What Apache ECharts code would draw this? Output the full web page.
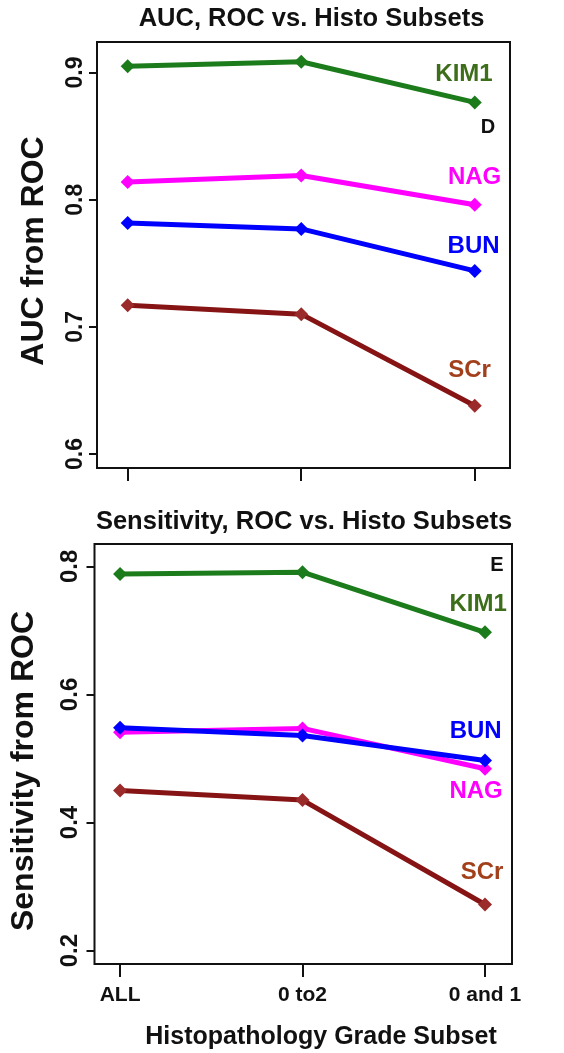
<!DOCTYPE html>
<html>
<head>
<meta charset="utf-8">
<script src="https://cdn.jsdelivr.net/npm/echarts@6/dist/echarts.min.js"></script>
<style>
  html, body { margin: 0; padding: 0; background: #fff; }
  #chart { width: 564px; height: 1053px; }
</style>
</head>
<body>
<div id="chart"></div>
<script>
// categories on the x axis (histopathology grade subsets)
const categories = ["ALL", "0 to2", "0 and 1"];
const markers = ["KIM1", "NAG", "BUN", "SCr"];

// panel D: AUC from ROC
const aucKIM1 = [0.905, 0.9085, 0.8765];
const aucNAG = [0.814, 0.819, 0.796];
const aucBUN = [0.7816, 0.777, 0.744];
const aucSCr = [0.717, 0.710, 0.638];
const aucTicks = [0.6, 0.7, 0.8, 0.9];

// panel E: sensitivity from ROC
const sensKIM1 = [0.788, 0.791, 0.697];
const sensNAG = [0.541, 0.547, 0.484];
const sensBUN = [0.548, 0.536, 0.497];
const sensSCr = [0.450, 0.435, 0.272];
const sensTicks = [0.2, 0.4, 0.6, 0.8];

// where the marker names sit (data units), order KIM1, NAG, BUN, SCr
const aucLabelX = [2.938, 2.999, 2.993, 2.970];
const aucLabelY = [0.8988, 0.8178, 0.7633, 0.666];
const sensLabelX = [2.962, 2.951, 2.949, 2.984];
const sensLabelY = [0.741, 0.449, 0.5417, 0.3214];

const lineColors = { KIM1: "#1c7c1c", NAG: "#ff00ff", BUN: "#0000ff", SCr: "#861414" };
const textColors = { KIM1: "#3d6e1a", NAG: "#ff00ff", BUN: "#0000ff", SCr: "#a3401c" };
const FONT = "'Liberation Sans', Arial, sans-serif";
const INK = "#111";

const chart = echarts.init(document.getElementById("chart"), null, { renderer: "canvas" });

function makeSeries(name, values, panel, lx, ly) {
  return {
    name: name,
    type: "line",
    xAxisIndex: panel,
    yAxisIndex: panel,
    data: values.map((v, i) => [i + 1, v]),
    symbol: "diamond",
    symbolSize: [14, 14],
    showSymbol: true,
    lineStyle: { width: 5, color: lineColors[name] },
    itemStyle: { color: name === "SCr" ? "#9b2a2a" : lineColors[name] },
    emphasis: { disabled: true },
    markPoint: {
      symbol: "circle",
      symbolSize: 0,
      silent: true,
      data: [{ coord: [lx, ly], value: name }],
      label: {
        show: true,
        position: "inside",
        formatter: name,
        color: textColors[name],
        fontFamily: FONT,
        fontWeight: "bold",
        fontSize: 24
      }
    }
  };
}

const panelD = [aucKIM1, aucNAG, aucBUN, aucSCr];
const panelE = [sensKIM1, sensNAG, sensBUN, sensSCr];

const series = [];
markers.forEach((m, i) => series.push(makeSeries(m, panelD[i], 0, aucLabelX[i], aucLabelY[i])));
markers.forEach((m, i) => series.push(makeSeries(m, panelE[i], 1, sensLabelX[i], sensLabelY[i])));

const tickStyle = { color: INK, width: 2 };

function yAxis(panel, min, max, ticks, margin, size) {
  return {
    gridIndex: panel,
    type: "value",
    min: min,
    max: max,
    axisLine: { show: false },
    splitLine: { show: false },
    axisTick: { show: true, customValues: ticks, length: 8, lineStyle: tickStyle },
    axisLabel: {
      show: true,
      customValues: ticks,
      rotate: 90,
      margin: margin,
      formatter: (v) => v.toFixed(1),
      color: INK,
      fontFamily: FONT,
      fontWeight: "bold",
      fontSize: size
    }
  };
}

function xAxis(panel, min, max, withLabels) {
  return {
    gridIndex: panel,
    type: "value",
    min: min,
    max: max,
    axisLine: { show: false },
    splitLine: { show: false },
    axisTick: { show: true, customValues: [1, 2, 3], length: 13, lineStyle: tickStyle },
    axisLabel: {
      show: withLabels,
      customValues: [1, 2, 3],
      margin: 21,
      formatter: (v) => categories[Math.round(v) - 1],
      color: INK,
      fontFamily: FONT,
      fontWeight: "bold",
      fontSize: 21
    }
  };
}

function txt(text, x, y, size, rotate, color) {
  return {
    type: "text",
    x: x,
    y: y,
    rotation: rotate ? Math.PI / 2 : 0,
    silent: true,
    style: {
      text: text,
      fill: color || INK,
      font: "bold " + size + "px " + FONT,
      align: "center",
      verticalAlign: "middle",
      textAlign: "center",
      textVerticalAlign: "middle"
    }
  };
}

const option = {
  animation: false,
  backgroundColor: "#ffffff",
  grid: [
    { left: 97, top: 42, right: 54, bottom: 585, show: true, borderColor: INK, borderWidth: 2, backgroundColor: "transparent" },
    { left: 94.5, top: 544, right: 52, bottom: 89, show: true, borderColor: INK, borderWidth: 2, backgroundColor: "transparent" }
  ],
  xAxis: [xAxis(0, 0.823, 3.203, false), xAxis(1, 0.860, 3.148, true)],
  yAxis: [yAxis(0, 0.589, 0.924, aucTicks, 10, 23), yAxis(1, 0.179, 0.835, sensTicks, 12, 24)],
  tooltip: { show: false },
  legend: { show: false },
  series: series,
  graphic: [
    txt("AUC, ROC vs. Histo Subsets", 311.5, 18.5, 25.5, false),
    txt("Sensitivity, ROC vs. Histo Subsets", 304, 521.7, 25.5, false),
    txt("AUC from ROC", 34, 251, 32, true),
    txt("Sensitivity from ROC", 24, 771, 32, true),
    txt("Histopathology Grade Subset", 321, 1037, 25, false),
    txt("D", 488, 127, 20, false),
    txt("E", 497, 565, 20, false)
  ]
};

chart.setOption(option);
</script>
</body>
</html>
